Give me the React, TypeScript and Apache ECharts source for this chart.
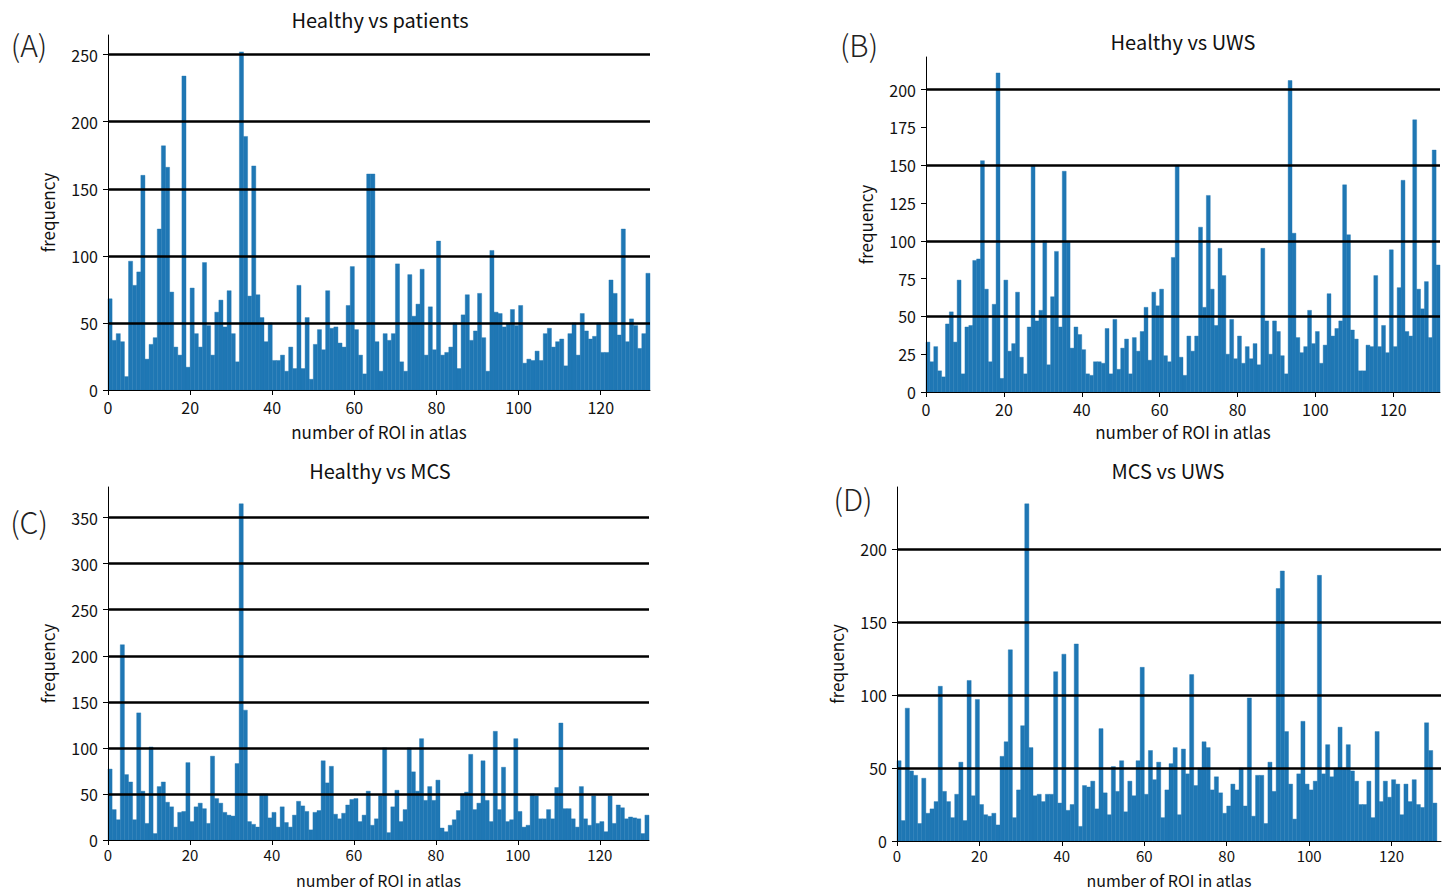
import React, { useEffect, useRef } from 'react';
import * as echarts from 'echarts';

// ---- data (frequency per ROI index) ----
const roiA = [68,37,42,36,10,96,78,88,160,23,34,39,120,182,166,73,32,26,234,17,76,42,32,95,48,26,58,67,47,74,42,21,252,189,70,167,71,54,36,50,22,22,26,14,32,
16,78,16,54,8,34,45,30,74,46,47,35,32,63,92,45,26,12,161,161,36,14,42,37,42,94,21,14,86,55,64,90,26,62,30,111,26,28,32,50,16,56,71,37,
44,72,39,14,104,58,57,47,50,60,48,63,20,23,22,29,22,42,46,32,36,38,18,42,50,26,57,44,38,40,50,28,28,82,72,41,120,36,53,48,31,42,87];

const roiB = [33,20,30,14,10,45,53,33,74,12,43,44,87,88,153,68,20,58,211,9,74,27,32,66,23,12,43,150,47,54,100,18,63,93,43,146,99,29,43,38,28,12,11,20,
20,19,42,12,48,15,29,35,12,36,27,40,56,21,66,57,68,24,20,89,150,23,11,37,27,37,109,56,130,68,44,95,77,25,48,22,37,19,30,22,32,18,95,47,25,
47,40,24,12,206,105,36,26,30,54,32,40,19,31,65,37,42,47,137,104,41,35,14,14,31,30,77,30,44,26,94,30,69,140,40,37,180,68,55,73,36,160,84];

const roiC = [77,33,22,212,71,63,22,138,53,18,101,7,58,63,41,36,14,30,31,84,20,36,40,34,18,91,45,40,30,27,26,83,365,141,20,17,14,50,50,24,30,14,36,19,14,
27,42,37,31,11,30,32,86,62,80,28,23,29,38,44,45,20,27,53,16,23,48,100,8,36,54,20,33,100,74,53,110,43,58,43,65,13,9,16,22,32,50,52,93,
33,40,86,43,20,118,33,79,20,22,110,31,14,16,50,48,23,23,33,23,57,127,34,34,23,14,58,23,16,48,18,20,9,48,18,38,35,23,25,24,23,7,27];

const roiD = [55,14,91,48,45,12,43,19,22,27,106,34,27,16,32,54,14,110,31,97,25,18,17,19,11,58,68,131,16,35,79,231,64,31,32,27,32,32,116,26,128,21,25,135,10,
38,37,41,22,77,33,18,51,34,55,20,41,31,55,119,32,62,42,54,16,35,53,64,18,63,46,114,38,50,68,64,35,44,33,19,24,39,35,50,24,98,17,45,45,
12,54,34,173,185,75,39,15,46,82,39,35,41,182,46,66,44,50,78,50,66,48,41,25,25,41,16,75,27,41,30,42,39,18,39,27,42,25,23,81,62,26];

const xTicks = [0, 20, 40, 60, 80, 100, 120];
const yTicksA = [0, 50, 100, 150, 200, 250];
const yTicksB = [0, 25, 50, 75, 100, 125, 150, 175, 200];
const yTicksC = [0, 50, 100, 150, 200, 250, 300, 350];
const yTicksD = [0, 50, 100, 150, 200];
const gridA = [50, 100, 150, 200, 250];
const gridB = [50, 100, 150, 200];
const gridC = [50, 100, 150, 200, 250, 300, 350];
const gridD = [50, 100, 150, 200];
const titles = ['Healthy vs patients', 'Healthy vs UWS', 'Healthy vs MCS', 'MCS vs UWS'];
const letters = ['(A)', '(B)', '(C)', '(D)'];
const xName = 'number of ROI in atlas';
const yName = 'frequency';
const xMax = 132;

const FONT = "'Noto Sans CJK JP', 'Noto Sans', sans-serif";
const BAR = '#1f77b4';

const panels = [
  { data: roiA, yTicks: yTicksA, grid: gridA, interval: 50, box: { left: 108, top: 35, width: 542, height: 355 }, title: [380, 19], letter: [29, 44], xGap: 33, xFs: 17, lblFs: 16, lblMargin: 9 },
  { data: roiB, yTicks: yTicksB, grid: gridB, interval: 25, box: { left: 926, top: 57, width: 514, height: 335 }, title: [1183, 41], letter: [859, 44], xGap: 31, xFs: 17, lblFs: 16, lblMargin: 9 },
  { data: roiC, yTicks: yTicksC, grid: gridC, interval: 50, box: { left: 108, top: 487, width: 541, height: 353 }, title: [380, 470], letter: [29, 521], xGap: 32, xFs: 16, lblFs: 15, lblMargin: 7 },
  { data: roiD, yTicks: yTicksD, grid: gridD, interval: 50, box: { left: 897, top: 487, width: 544, height: 354 }, title: [1168, 470], letter: [853, 498], xGap: 31, xFs: 16, lblFs: 15, lblMargin: 7 },
];

export default function App() {
  const ref = useRef<HTMLDivElement>(null);
  useEffect(() => {
    if (!ref.current) return;
    const chart = echarts.init(ref.current, undefined, { renderer: 'svg' });
    const grids: any[] = [];
    const xAxes: any[] = [];
    const yAxes: any[] = [];
    const series: any[] = [];
    const graphics: any[] = [];
    panels.forEach((p, k) => {
      grids.push({ ...p.box, containLabel: false });
      xAxes.push({
        type: 'value', gridIndex: k, min: 0, max: xMax, interval: 20, z: 6,
        name: xName, nameLocation: 'middle', nameGap: p.xGap,
        nameTextStyle: { fontSize: p.xFs, color: '#111', fontFamily: FONT },
        axisLine: { show: true, lineStyle: { color: '#000', width: 1 } },
        axisTick: { show: true, length: 5, lineStyle: { color: '#000' }, customValues: xTicks },
        axisLabel: { fontSize: p.lblFs, color: '#111', fontFamily: FONT, margin: p.lblMargin, customValues: xTicks },
        splitLine: { show: false },
      });
      const yMax = Math.max(...p.data) * 1.05;
      yAxes.push({
        type: 'value', gridIndex: k, min: 0, max: yMax, interval: p.interval, z: 6,
        name: yName, nameLocation: 'middle', nameGap: 52, nameRotate: 90,
        nameTextStyle: { fontSize: 17, color: '#111', fontFamily: FONT },
        axisLine: { show: true, lineStyle: { color: '#000', width: 1 } },
        axisTick: { show: true, length: 5, lineStyle: { color: '#000' }, customValues: p.yTicks },
        axisLabel: { fontSize: 16, color: '#111', fontFamily: FONT, margin: 10, customValues: p.yTicks },
        splitLine: { show: false },
      });
      series.push({
        type: 'custom', xAxisIndex: k, yAxisIndex: k,
        data: p.data.map((v, i) => [i, v]),
        encode: { x: 0, y: 1 },
        renderItem: (params: any, api: any) => {
          const x = api.value(0);
          const v = api.value(1);
          const p0 = api.coord([x, 0]);
          const p1 = api.coord([x + 1, v]);
          return {
            type: 'rect',
            shape: { x: p0[0], y: p1[1], width: p1[0] - p0[0], height: p0[1] - p1[1] },
            style: { fill: BAR, stroke: BAR, lineWidth: 0.4 },
          };
        },
        markLine: {
          silent: true, symbol: ['none', 'none'], z: 5,
          label: { show: false },
          lineStyle: { color: '#000', width: 2.5, type: 'solid' },
          emphasis: { disabled: true },
          data: p.grid.map((g) => ({ yAxis: g })),
        },
      });
      graphics.push({
        type: 'text', x: p.title[0], y: p.title[1],
        style: { text: titles[k], fontSize: 20, fontFamily: FONT, fill: '#111', align: 'center', verticalAlign: 'middle' },
      });
      graphics.push({
        type: 'text', x: p.letter[0], y: p.letter[1],
        style: { text: letters[k], fontSize: 30, fontFamily: FONT, fontWeight: 300, fill: '#222', align: 'center', verticalAlign: 'middle' },
      });
    });
    chart.setOption({
      animation: false,
      backgroundColor: '#fff',
      grid: grids,
      xAxis: xAxes,
      yAxis: yAxes,
      series,
      graphic: graphics,
    });
    return () => chart.dispose();
  }, []);
  return <div ref={ref} style={{ position: 'fixed', left: 0, top: 0, width: 1448, height: 892 }} />;
}
